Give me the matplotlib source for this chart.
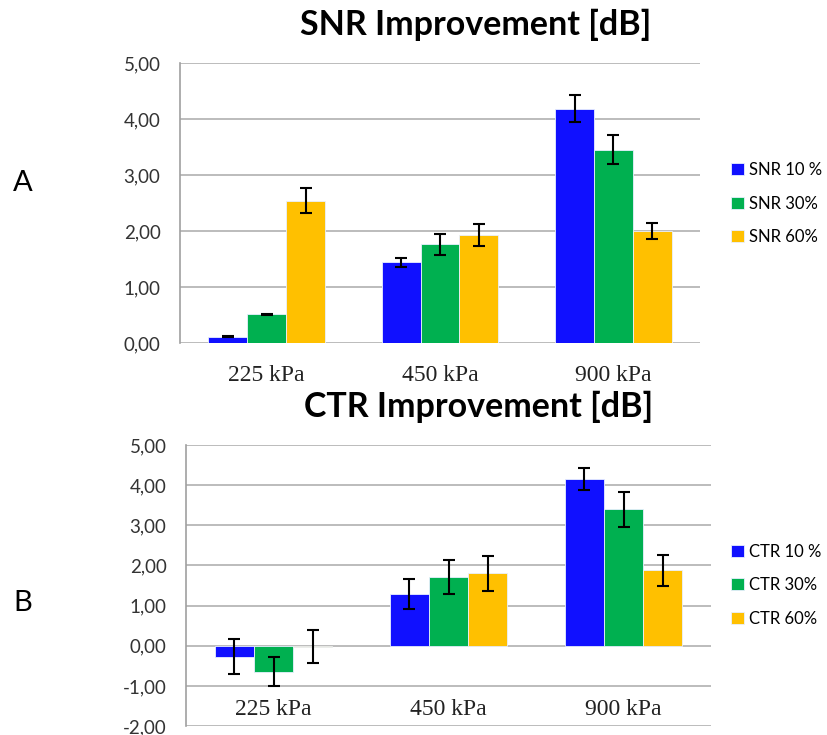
import numpy as np
import matplotlib
matplotlib.use("Agg")
import matplotlib.pyplot as plt
from matplotlib.ticker import FuncFormatter

# dati
pressures = ["225 kPa", "450 kPa", "900 kPa"]
levels = ["10 %", "30%", "60%"]

snr_10 = [0.11, 1.44, 4.18]
snr_30 = [0.51, 1.76, 3.45]
snr_60 = [2.54, 1.93, 2.00]
snr_10_err = [0.01, 0.085, 0.24]
snr_30_err = [0.01, 0.18, 0.26]
snr_60_err = [0.22, 0.19, 0.15]

ctr_10 = [-0.27, 1.29, 4.15]
ctr_30 = [-0.65, 1.71, 3.40]
ctr_60 = [-0.03, 1.80, 1.88]
ctr_10_err = [0.44, 0.38, 0.28]
ctr_30_err = [0.36, 0.42, 0.43]
ctr_60_err = [0.41, 0.44, 0.38]

colors = ["#1010FF", "#00B050", "#FFC000"]

SANS = ["Lato", "DejaVu Sans"]
SERIF = ["Liberation Serif", "DejaVu Serif"]


def comma_fmt(v, pos):
    return f"{v:.2f}".replace(".", ",")


def bar_panel(ax, series, errors, prefix, ylim, low_labels=False):
    x = np.arange(len(pressures))
    w = 0.224
    handles = []
    for i, (vals, errs) in enumerate(zip(series, errors)):
        h = ax.bar(x + (i - 1) * w, vals, width=w, color=colors[i],
                   edgecolor="#e8f0ff", linewidth=0.6, zorder=3,
                   label=f"{prefix} {levels[i]}")
        ax.errorbar(x + (i - 1) * w, vals, yerr=errs, fmt="none",
                    ecolor="black", elinewidth=1.5, capsize=4,
                    capthick=1.5, zorder=4)
        handles.append(h)

    ax.set_xlim(-0.5, len(pressures) - 0.5)
    ax.set_ylim(*ylim)
    ax.set_yticks(np.arange(ylim[0], ylim[1] + 0.01, 1.0))
    ax.yaxis.set_major_formatter(FuncFormatter(comma_fmt))
    ax.grid(axis="y", color="#b0b0b0", linewidth=1.2, zorder=0)
    ax.set_axisbelow(True)
    for s in ["top", "right", "bottom"]:
        ax.spines[s].set_visible(False)
    ax.spines["left"].set_color("#a0a0a0")
    ax.spines["left"].set_linewidth(1.2)
    ax.tick_params(axis="y", length=0, pad=14, labelsize=13.5,
                   labelcolor="#333333")
    for lbl in ax.get_yticklabels():
        lbl.set_fontfamily(SANS)

    if low_labels:
        ax.set_xticks([])
        for xi, name in zip(x, pressures):
            ax.text(xi, -1.58, name, ha="center", va="center",
                    fontsize=17, family=SERIF, color="#222222")
    else:
        ax.set_xticks(x)
        ax.set_xticklabels(pressures, fontsize=17, family=SERIF,
                           color="#222222")
        ax.tick_params(axis="x", length=0, pad=16)
    return handles


fig = plt.figure(figsize=(8.27, 7.35), dpi=100)

ax1 = fig.add_axes([0.2177, 0.5333, 0.6288, 0.381])
h1 = bar_panel(ax1, [snr_10, snr_30, snr_60],
               [snr_10_err, snr_30_err, snr_60_err], "SNR", (0, 5))

ax2 = fig.add_axes([0.2249, 0.0122, 0.635, 0.3823])
h2 = bar_panel(ax2, [ctr_10, ctr_30, ctr_60],
               [ctr_10_err, ctr_30_err, ctr_60_err], "CTR", (-2, 5),
               low_labels=True)

# titoli
fig.text(0.575, 0.966, "SNR Improvement [dB]", ha="center", va="center",
         fontsize=24.5, fontweight="bold", family=SANS)
fig.text(0.579, 0.446, "CTR Improvement [dB]", ha="center", va="center",
         fontsize=24.5, fontweight="bold", family=SANS)

fig.text(0.027, 0.751, "A", ha="center", va="center", fontsize=21,
         family=SANS)
fig.text(0.027, 0.179, "B", ha="center", va="center", fontsize=21,
         family=SANS)

# legende
leg_kw = dict(frameon=False, handlelength=0.75, handleheight=0.75,
              handletextpad=0.3, labelspacing=1.05, borderpad=0,
              borderaxespad=0, prop={"family": SANS, "size": 12})
fig.legend(handles=h1, loc="center left",
           bbox_to_anchor=(0.884, 0.723), **leg_kw)
fig.legend(handles=h2, loc="center left",
           bbox_to_anchor=(0.884, 0.204), **leg_kw)

plt.savefig("out.png", dpi=100)
plt.close()
